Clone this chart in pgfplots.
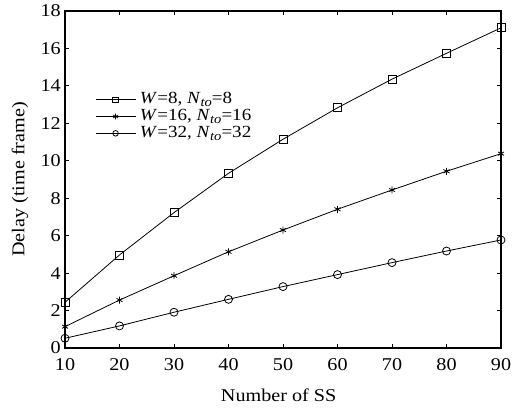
\documentclass[border=0pt]{standalone}
\usepackage{pgfplots}
\pgfplotsset{compat=1.18}
\usepackage{fontspec}
\setmainfont{Liberation Serif}[FakeStretch=1.12]

\newcommand{\sub}[1]{\raisebox{-0.35ex}{\fontsize{13}{13}\selectfont\textit{#1}}}

\begin{document}
\begin{tikzpicture}
\begin{axis}[
    name=ax,
    width=436pt, height=337pt,
    scale only axis,
    xmin=10, xmax=90, ymin=0, ymax=18,
    xtick={10,20,...,90},
    ytick={0,2,...,18},
    tick align=inside,
    major tick length=4pt,
    tick style={line width=0.8pt, black},
    axis line style={line width=1.3pt},
    xlabel={Number of SS},
    ylabel={Delay (time frame)},
    label style={font=\fontsize{18}{20}\selectfont},
    tick label style={font=\fontsize{18}{20}\selectfont},
    /pgf/number format/assume math mode=true,
    xticklabel style={inner sep=0pt, yshift=-10pt},
    yticklabel style={inner sep=0pt, xshift=-4pt},
    xlabel style={at={(axis description cs:0.49,-0.1573)}, anchor=base},
    ylabel style={at={(axis description cs:-0.1032,0.5)}, anchor=center},
    legend style={draw=none, fill=none, at={(0.0688,0.7596)}, anchor=north west,
        font=\fontsize{17}{17}\selectfont, row sep=1.8pt, inner sep=0pt,
        nodes={inner sep=0pt, text height=11.5pt, text depth=3.5pt},
        /tikz/every odd column/.append style={column sep=4pt}},
    legend cell align=left,
    legend image code/.code={
        \draw[#1, mark=none] (0pt,0pt) -- (40pt,0pt);
        \draw[#1, only marks, mark size=2.8pt] plot coordinates {(20pt,0pt)};},
]
\addplot[black, line width=0.8pt, mark=square, mark size=4pt, mark options={solid, line width=0.8pt}] coordinates {
    (10,2.44) (20,4.97) (30,7.23) (40,9.33) (50,11.15) (60,12.83) (70,14.36) (80,15.74) (90,17.1)};
\addlegendentry{\textit{W}=8, \textit{N}\sub{to}=8}
\addplot[black, line width=0.8pt, mark=asterisk, mark size=3.5pt, mark options={solid, line width=0.8pt}] coordinates {
    (10,1.14) (20,2.56) (30,3.86) (40,5.14) (50,6.30) (60,7.41) (70,8.44) (80,9.44) (90,10.38)};
\addlegendentry{\textit{W}=16, \textit{N}\sub{to}=16}
\addplot[black, line width=0.8pt, mark=o, mark size=4pt, mark options={solid, line width=0.8pt}] coordinates {
    (10,0.52) (20,1.18) (30,1.91) (40,2.60) (50,3.28) (60,3.92) (70,4.56) (80,5.18) (90,5.77)};
\addlegendentry{\textit{W}=32, \textit{N}\sub{to}=32}
\end{axis}
\path (ax.south west) ++(-65pt,-59pt) rectangle ++(514pt,407pt);
\end{tikzpicture}
\end{document}
